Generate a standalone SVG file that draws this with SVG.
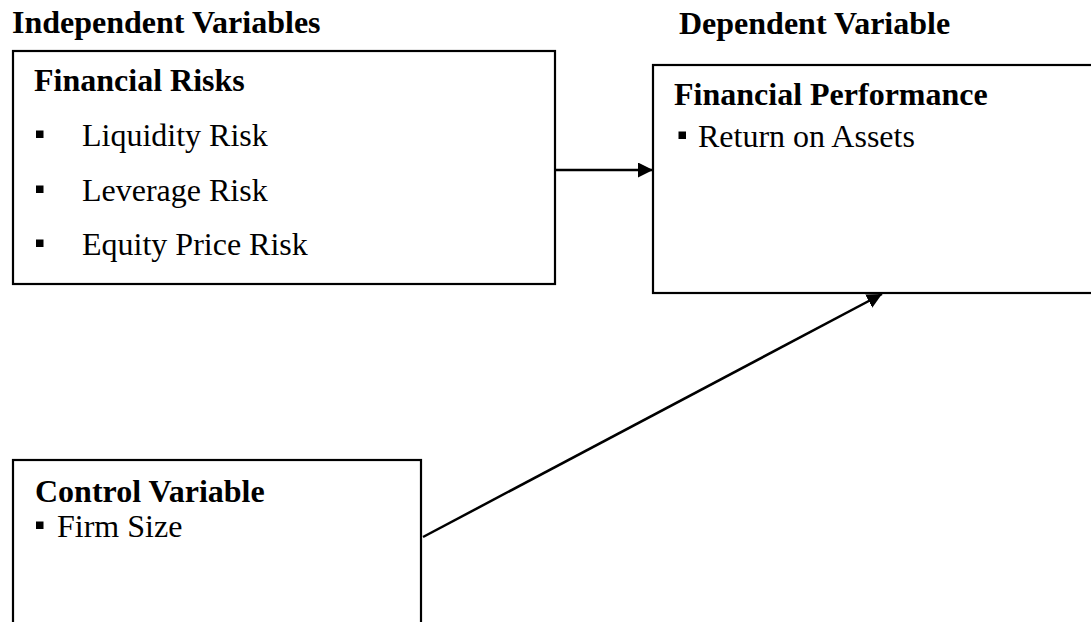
<svg xmlns="http://www.w3.org/2000/svg" width="1091" height="622" viewBox="0 0 1091 622">
  <style>
    .box { fill: #fff; stroke: #000; stroke-width: 2.2; }
    .h { font-family: "Liberation Serif", "Times New Roman", serif; font-size: 32px; font-weight: bold; fill: #000; }
    .t { font-family: "Liberation Serif", "Times New Roman", serif; font-size: 32px; fill: #000; }
    .bul { fill: #000; }
    .conn { stroke: #000; stroke-width: 2.5; fill: none; }
  </style>
  <defs>
    <marker id="arrow" markerUnits="userSpaceOnUse" viewBox="0 0 15 15" refX="15" refY="7.5" markerWidth="15" markerHeight="15" orient="auto">
      <path d="M0,0 L15,7.5 L0,15 z" fill="#000"/>
    </marker>
  </defs>
  <rect width="1091" height="622" fill="#fff"/>

  <text class="h" x="12" y="33">Independent Variables</text>
  <text class="h" x="679" y="34">Dependent Variable</text>

  <g id="financial-risks">
    <rect class="box" x="13" y="51" width="542" height="233"/>
    <text class="h" x="34" y="91">Financial Risks</text>
    <rect class="bul" x="36" y="130.5" width="7.5" height="7.5"/>
    <text class="t" x="82" y="146">Liquidity Risk</text>
    <rect class="bul" x="36" y="185.5" width="7.5" height="7.5"/>
    <text class="t" x="82" y="201">Leverage Risk</text>
    <rect class="bul" x="36" y="239.5" width="7.5" height="7.5"/>
    <text class="t" x="82" y="255">Equity Price Risk</text>
  </g>

  <g id="financial-performance">
    <rect class="box" x="653" y="65" width="460" height="228"/>
    <text class="h" x="674" y="105">Financial Performance</text>
    <rect class="bul" x="678.5" y="131.5" width="7.5" height="7.5"/>
    <text class="t" x="698" y="147">Return on Assets</text>
  </g>

  <g id="control-variable">
    <rect class="box" x="13" y="460" width="408" height="200"/>
    <text class="h" x="35" y="502">Control Variable</text>
    <rect class="bul" x="36" y="521.5" width="7.5" height="7.5"/>
    <text class="t" x="57" y="537">Firm Size</text>
  </g>

  <g id="connectors">
    <line class="conn" x1="555" y1="170" x2="653" y2="170" marker-end="url(#arrow)"/>
    <line class="conn" x1="423" y1="537" x2="882" y2="294" marker-end="url(#arrow)"/>
  </g>
</svg>
